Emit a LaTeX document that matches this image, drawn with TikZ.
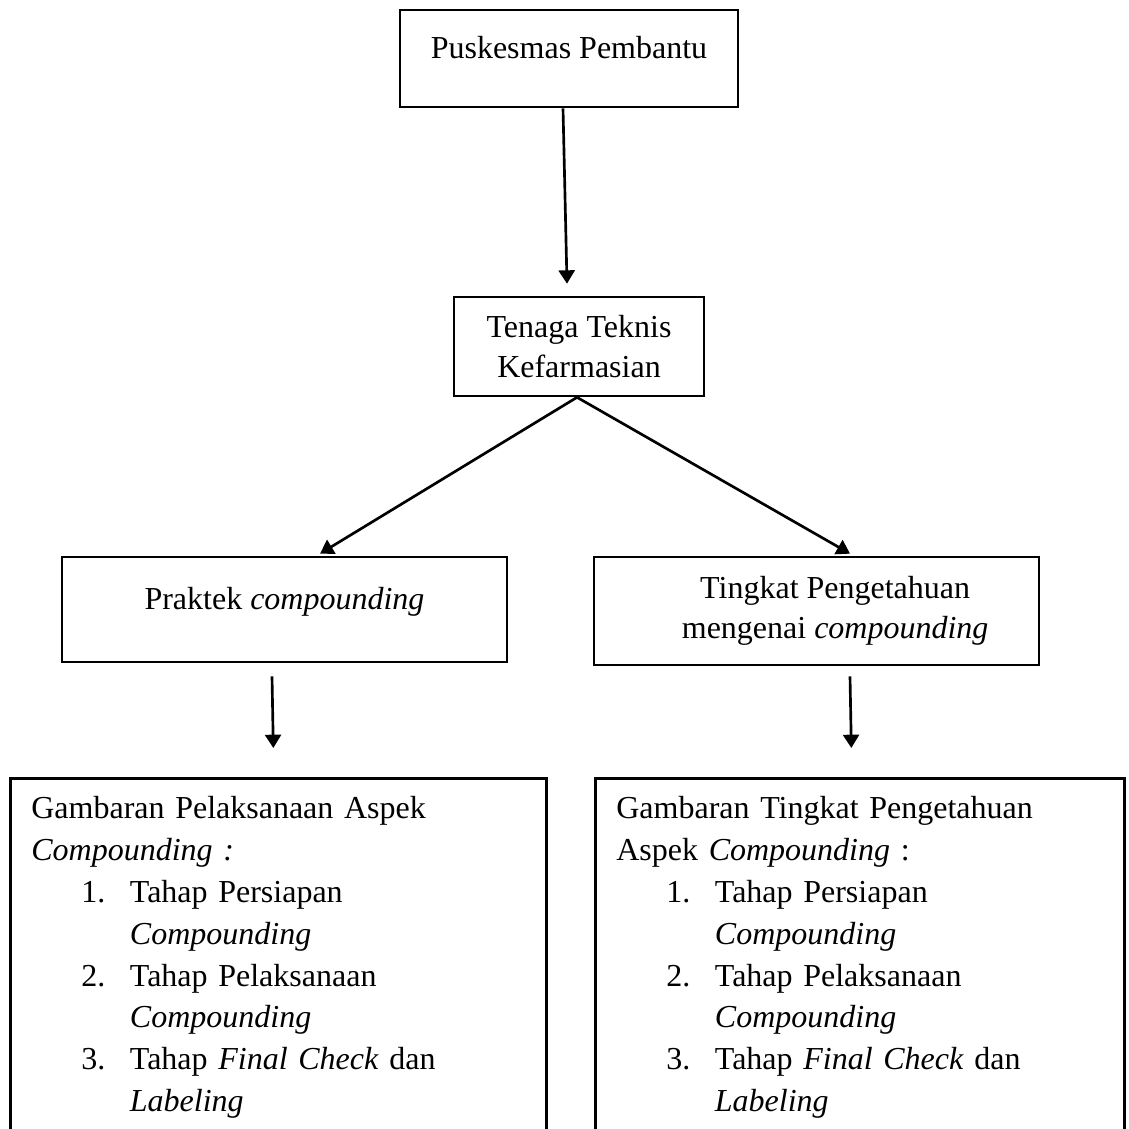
\documentclass[tikz,border=0pt]{standalone}
\usepackage{fontspec}
\setmainfont{Liberation Serif}
\usetikzlibrary{arrows.meta,calc}
\newdimen\px \px=0.375pt
\tikzset{kotak/.style = {draw, line width=1pt, font=\fontsize{12}{15}\selectfont}}
\tikzset{satubaris/.style = {kotak, text height=0pt, text depth=0pt}}
\tikzset{daftar/.style = {kotak, anchor=north west, align=left, inner xsep=21\px, inner ysep=11\px, font=\fontsize{12}{15.7}\selectfont}}
\tikzset{panah/.style = {-{Triangle[length=5pt,width=6pt]}, line width=1pt}}
\newcommand{\butir}[3]{\hspace*{50\px}\makebox[48.6\px][l]{#1}#2\\\hspace*{98.6\px}#3}

\begin{document}
\begin{tikzpicture}[x=0.375pt, y=-0.375pt]
\useasboundingbox (0,0) rectangle (1129,1129);
% boxes
\node[satubaris, minimum width=338\px, minimum height=97\px] (pusk) at (569,58.5) {Puskesmas Pembantu};
\node[kotak, minimum width=250\px, minimum height=99\px, align=center] (tenaga) at (579,346.5) {Tenaga Teknis\\Kefarmasian};
\node[satubaris, minimum width=445\px, minimum height=105\px] (praktek) at (284.5,609.5) {Praktek \textit{compounding}};
\node[kotak, minimum width=445\px, minimum height=108\px, align=center] (tingkat) at (816.5,611) {\hspace*{14pt}Tingkat Pengetahuan\\\hspace*{14pt}mengenai \textit{compounding}};

\node[daftar, text width=494\px] (gambarL) at (9,777) {\strut Gambaran Pelaksanaan Aspek\\
\textit{Compounding :}\\
\butir{1.}{Tahap Persiapan}{\textit{Compounding}}\\
\butir{2.}{Tahap Pelaksanaan}{\textit{Compounding}}\\
\butir{3.}{Tahap \textit{Final Check} dan}{\textit{Labeling}\rule[-40pt]{0pt}{0pt}}};
\node[daftar, text width=487\px] (gambarR) at (594,777) {\strut Gambaran Tingkat Pengetahuan\\
Aspek \textit{Compounding} :\\
\butir{1.}{Tahap Persiapan}{\textit{Compounding}}\\
\butir{2.}{Tahap Pelaksanaan}{\textit{Compounding}}\\
\butir{3.}{Tahap \textit{Final Check} dan}{\textit{Labeling}\rule[-40pt]{0pt}{0pt}}};

% arrows
\draw[panah] ($(pusk.south)+(-6,0)$) -- ($(tenaga.north)+(-12,-12)$);
\coordinate (cabang) at ($(tenaga.south)+(-2,0)$);
\draw[panah] (cabang) -- ($(praktek.north)+(35.5,-2)$);
\draw[panah] (cabang) -- ($(tingkat.north)+(33.5,-2)$);
\draw[panah] ($(praktek.south)+(-12.5,13)$) -- ($(gambarL.north)+(-5,-29)$);
\draw[panah] ($(tingkat.south)+(33.5,10)$) -- ($(gambarR.north)+(-8.5,-29)$);
\end{tikzpicture}
\end{document}
